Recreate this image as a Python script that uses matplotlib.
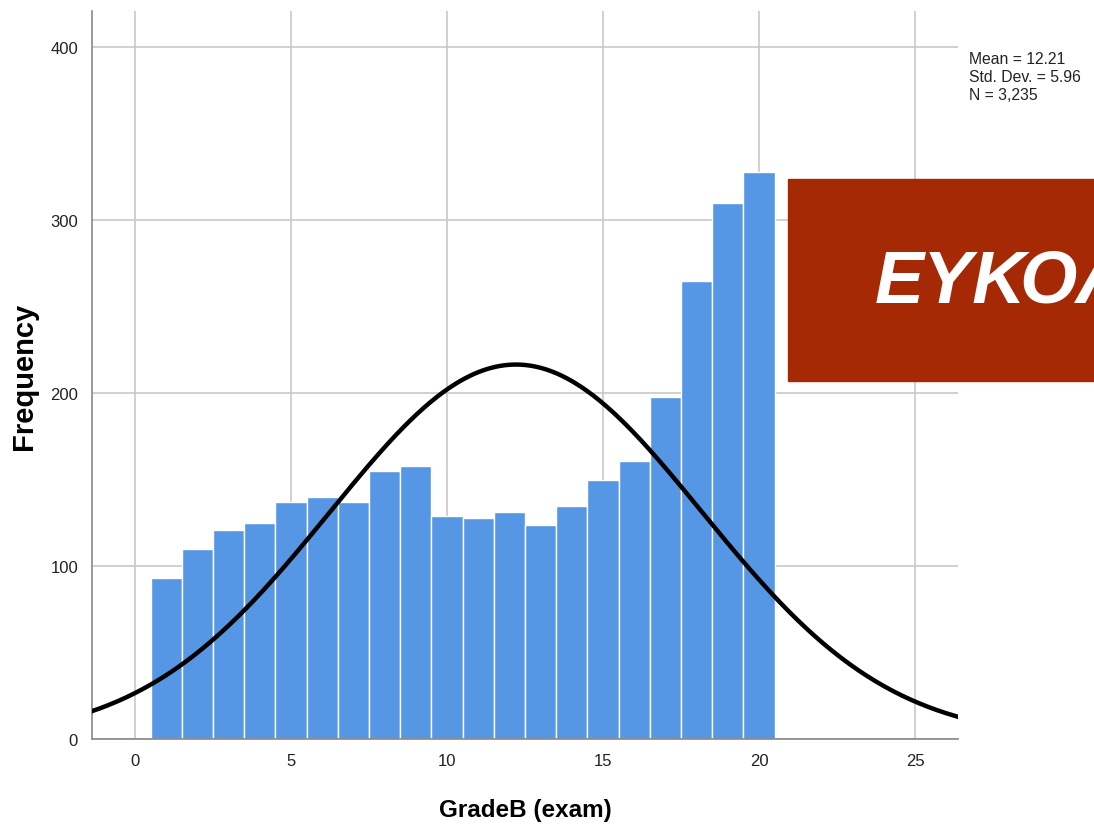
import matplotlib.pyplot as plt
import numpy as np

# histogram counts for grades 1..20 (bin width 1)
grades = np.arange(1, 21)
counts = [93, 110, 121, 125, 137, 140, 137, 155, 158, 129,
          128, 131, 124, 135, 150, 161, 198, 265, 310, 328]
mean, sd, n = 12.21, 5.96, 3235

plt.rcParams["font.family"] = ["Liberation Sans", "DejaVu Sans"]

fig = plt.figure(figsize=(10.94, 8.29), dpi=100)
ax = fig.add_axes([0.0841, 0.1074, 0.7916, 0.8781])

ax.grid(True, color="#c8c8c8", linewidth=1.2, zorder=0)
ax.bar(grades, counts, width=1.0, color="#5596e5", edgecolor="#ffffff",
       linewidth=1.0, zorder=2)

xs = np.linspace(-1.4, 26.4, 400)
ys = n * 1.0 / (sd * np.sqrt(2 * np.pi)) * np.exp(-0.5 * ((xs - mean) / sd) ** 2)
ax.plot(xs, ys, color="black", linewidth=3.2, zorder=3)

ax.set_xlim(-1.38, 26.38)
ax.set_ylim(0, 421)
ax.set_xticks([0, 5, 10, 15, 20, 25])
ax.set_yticks([0, 100, 200, 300, 400])
ax.tick_params(length=0, labelsize=12, colors="#222222")
ax.tick_params(axis="x", pad=10)
ax.tick_params(axis="y", pad=10)
for s in ["top", "right"]:
    ax.spines[s].set_visible(False)
for s in ["left", "bottom"]:
    ax.spines[s].set_color("#888888")
    ax.spines[s].set_linewidth(1.2)

ax.set_xlabel("GradeB (exam)", fontsize=17.5, fontweight="bold", labelpad=22)
ax.set_ylabel("Frequency", fontsize=21, fontweight="bold", labelpad=9)

fig.text(0.886, 0.937, "Mean = 12.21\nStd. Dev. = 5.96\nN = 3,235",
         fontsize=11.3, va="top", ha="left", linespacing=1.22, color="#222222")

# red banner on the right
fig.patches.append(plt.Rectangle((0.7203, 0.5392), 0.30, 0.2437,
                                 transform=fig.transFigure, color="#a62905",
                                 zorder=5))
fig.text(0.80, 0.659, "ΕΥΚΟΛΟ", fontsize=53, color="white", fontweight="bold",
         style="italic", va="center", ha="left", zorder=6)

fig.savefig("out.png", dpi=100)
